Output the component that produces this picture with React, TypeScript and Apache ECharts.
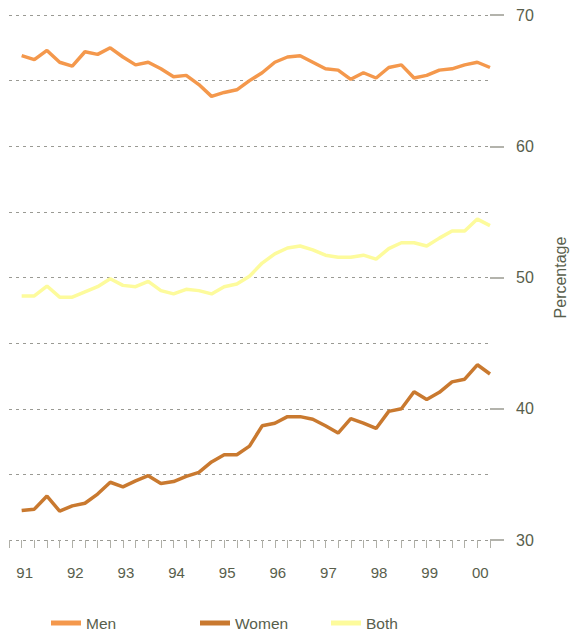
import React, { useEffect, useRef } from "react";
import * as echarts from "echarts";

const years = ["91", "92", "93", "94", "95", "96", "97", "98", "99", "00"];
const men = [66.9, 66.6, 67.3, 66.4, 66.1, 67.2, 67.0, 67.5, 66.8, 66.2, 66.4, 65.9, 65.3, 65.4, 64.7, 63.8, 64.1, 64.3, 65.0, 65.6, 66.4, 66.8, 66.9, 66.4, 65.9, 65.8, 65.1, 65.6, 65.2, 66.0, 66.2, 65.2, 65.4, 65.8, 65.9, 66.2, 66.4, 66.0];
const women = [32.25, 32.35, 33.35, 32.2, 32.6, 32.8, 33.5, 34.4, 34.05, 34.5, 34.9, 34.3, 34.45, 34.85, 35.15, 35.95, 36.5, 36.5, 37.15, 38.7, 38.9, 39.4, 39.4, 39.2, 38.7, 38.15, 39.25, 38.9, 38.5, 39.8, 40.0, 41.3, 40.7, 41.25, 42.05, 42.25, 43.35, 42.65];
const both = [48.6, 48.6, 49.35, 48.5, 48.5, 48.9, 49.3, 49.9, 49.4, 49.3, 49.7, 49.0, 48.75, 49.1, 49.0, 48.75, 49.3, 49.5, 50.1, 51.1, 51.8, 52.25, 52.4, 52.1, 51.7, 51.55, 51.55, 51.7, 51.4, 52.2, 52.65, 52.65, 52.4, 53.0, 53.55, 53.55, 54.45, 53.95];

const COLORS = { men: "#F4984C", women: "#C9792F", both: "#FDFB9C" };
const TEXT = "#585e4c";
const FONT = "Liberation Sans, Arial, sans-serif";

export default function App() {
  const ref = useRef<HTMLDivElement>(null);
  useEffect(() => {
    if (!ref.current) return;
    const chart = echarts.init(ref.current, null, { renderer: "svg" });
    const toPairs = (arr: number[]) => arr.map((v, i) => [i, v]);
    const lineSeries = (name: string, data: number[], color: string) => ({
      name,
      type: "line",
      yAxisIndex: 0,
      data: toPairs(data),
      symbol: "none",
      lineStyle: { color, width: 3.5 },
      itemStyle: { color },
    });
    const legendBase = {
      top: 615,
      padding: 0,
      icon: "rect",
      itemWidth: 30,
      itemHeight: 5,
      itemGap: 8,
      textStyle: { color: TEXT, fontSize: 15.5, fontFamily: FONT },
    };
    chart.setOption({
      animation: false,
      backgroundColor: "#ffffff",
      grid: { left: 9, right: 78, top: 15, bottom: 93 },
      legend: [
        { ...legendBase, left: 51, data: ["Men"] },
        { ...legendBase, left: 200, data: ["Women"] },
        { ...legendBase, left: 331, data: ["Both"] },
      ],
      xAxis: {
        type: "value",
        min: -1,
        max: 37,
        interval: 1,
        axisLine: { show: false },
        splitLine: { show: false },
        axisTick: { show: true, length: 8, lineStyle: { color: "#b0b0a8", width: 1 } },
        axisLabel: {
          margin: 25,
          color: TEXT,
          fontSize: 15,
          fontFamily: FONT,
          padding: [0, 0, 0, 6],
          formatter: (v: number) => (v >= 0 && v % 4 === 0 ? years[v / 4] : ""),
        },
      },
      yAxis: [
        {
          type: "value",
          position: "right",
          min: 30,
          max: 70,
          interval: 5,
          axisLine: { show: false },
          axisTick: { show: false },
          axisLabel: { show: false },
          splitLine: { show: true, lineStyle: { color: "#9a9a94", type: [3, 4], width: 1 } },
        },
        {
          type: "value",
          position: "right",
          min: 30,
          max: 70,
          interval: 10,
          axisLine: { show: false },
          splitLine: { show: false },
          axisTick: { show: true, length: 14, lineStyle: { color: "#9a9a90", width: 1.5 } },
          axisLabel: { margin: 26, color: TEXT, fontSize: 16, fontFamily: FONT },
          name: "Percentage",
          nameLocation: "middle",
          nameRotate: 90,
          nameGap: 62,
          nameTextStyle: { color: TEXT, fontSize: 16, fontFamily: FONT },
        },
      ],
      series: [
        lineSeries("Both", both, COLORS.both),
        lineSeries("Men", men, COLORS.men),
        lineSeries("Women", women, COLORS.women),
      ],
    });
    return () => chart.dispose();
  }, []);
  return <div ref={ref} style={{ width: 576, height: 633, position: "absolute", left: 0, top: 0 }} />;
}
